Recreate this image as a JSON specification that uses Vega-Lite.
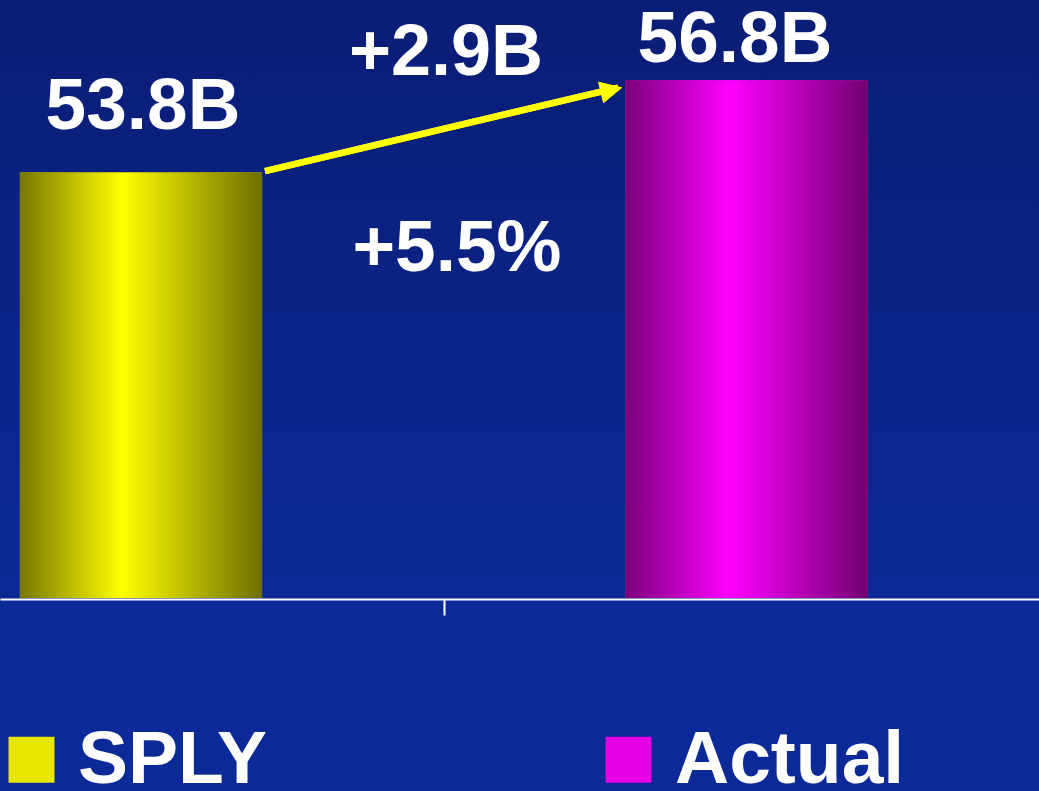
{
  "$schema": "https://vega.github.io/schema/vega-lite/v6.json",
  "width": 1039,
  "height": 598,
  "autosize": {"type": "pad"},
  "padding": 0,
  "background": "#0b2997",
  "config": {
    "view": {
      "stroke": null,
      "fill": {"gradient": "linear", "x1": 0, "y1": 0, "x2": 0, "y2": 1,
        "stops": [{"offset": 0, "color": "#0a1d76"}, {"offset": 1, "color": "#0b2994"}]}
    },
    "text": {"font": "Liberation Sans", "fontWeight": "bold", "fontSize": 73, "color": "white"}
  },
  "data": {
    "values": [
      {"series": "SPLY", "value": 53.8, "label": "53.8B"},
      {"series": "Actual", "value": 56.8, "label": "56.8B", "change": "+2.9B", "pct": "+5.5%"}
    ]
  },
  "layer": [
    {
      "mark": {"type": "bar"},
      "encoding": {
        "x": {
          "field": "series", "type": "nominal",
          "scale": {"domain": ["SPLY", "Actual"], "paddingInner": 0.6, "paddingOuter": 0.158, "align": 0.104},
          "axis": {"title": null, "labels": false, "grid": false, "domainColor": "white", "domainWidth": 2,
            "tickColor": "white", "tickWidth": 2, "tickSize": 16, "offset": 1, "values": ["SPLY"], "bandPosition": 1.753}
        },
        "y": {"field": "value", "type": "quantitative", "scale": {"domain": [40, 59.4], "zero": false, "nice": false}, "axis": null},
        "y2": {"datum": 40},
        "color": {
          "field": "series", "type": "nominal",
          "scale": {"domain": ["SPLY", "Actual"], "range": ["#e6e600", "#e600e6"]},
          "legend": {
            "orient": "none", "legendX": 0, "legendY": 722, "direction": "horizontal", "columns": 2,
            "title": null, "symbolType": "square", "symbolSize": 2116, "symbolStrokeWidth": 0, "symbolOpacity": 1,
            "symbolOffset": -6,
            "labelFont": "Liberation Sans", "labelFontWeight": "bold", "labelFontSize": 75, "labelColor": "white",
            "labelOffset": 9, "labelLimit": 400, "columnPadding": 329, "padding": 0
          }
        }
      }
    },
    {
      "transform": [{"filter": "datum.series === 'SPLY'"}],
      "mark": {"type": "bar", "color": {"gradient": "linear", "x1": 0, "y1": 0, "x2": 1, "y2": 0,
        "stops": [{"offset": 0, "color": "#777700"}, {"offset": 0.42, "color": "#ffff00"}, {"offset": 1, "color": "#6e6e00"}]}},
      "encoding": {
        "x": {"field": "series", "type": "nominal"},
        "y": {"field": "value", "type": "quantitative"},
        "y2": {"datum": 40}
      }
    },
    {
      "transform": [{"filter": "datum.series === 'Actual'"}],
      "mark": {"type": "bar", "color": {"gradient": "linear", "x1": 0, "y1": 0, "x2": 1, "y2": 0,
        "stops": [{"offset": 0, "color": "#7a007a"}, {"offset": 0.43, "color": "#ff00ff"}, {"offset": 1, "color": "#720072"}]}},
      "encoding": {
        "x": {"field": "series", "type": "nominal"},
        "y": {"field": "value", "type": "quantitative"},
        "y2": {"datum": 40}
      }
    },
    {
      "mark": {"type": "rule", "color": "#ffff00", "strokeWidth": 6.5},
      "encoding": {
        "x": {"datum": "SPLY", "bandPosition": 1.012},
        "x2": {"datum": "Actual", "bandPosition": -0.03},
        "y": {"datum": 53.85},
        "y2": {"datum": 56.56}
      }
    },
    {
      "mark": {"type": "point", "shape": "M-0.3,0L-2.3,-1L-2.3,1Z", "size": 484, "filled": true, "color": "#ffff00", "opacity": 1, "angle": 346.7},
      "encoding": {
        "x": {"datum": "Actual", "bandPosition": 0},
        "y": {"datum": 56.59}
      }
    },
    {
      "transform": [{"filter": "datum.series === 'SPLY'"}],
      "mark": {"type": "text", "align": "center", "baseline": "alphabetic", "dx": 2, "dy": -44},
      "encoding": {
        "x": {"field": "series", "type": "nominal"},
        "y": {"field": "value", "type": "quantitative"},
        "text": {"field": "label"}
      }
    },
    {
      "transform": [{"filter": "datum.series === 'Actual'"}],
      "mark": {"type": "text", "align": "center", "baseline": "alphabetic", "dx": -11.5, "dy": -18.6},
      "encoding": {
        "x": {"field": "series", "type": "nominal"},
        "y": {"field": "value", "type": "quantitative"},
        "text": {"field": "label"}
      }
    },
    {
      "transform": [{"filter": "datum.series === 'Actual'"}],
      "mark": {"type": "text", "align": "center", "baseline": "alphabetic", "dx": 1.5, "dy": -5.6, "fontSize": 72},
      "encoding": {
        "x": {"datum": "SPLY", "bandPosition": 1.753},
        "y": {"field": "value", "type": "quantitative"},
        "text": {"field": "change"}
      }
    },
    {
      "transform": [{"filter": "datum.series === 'Actual'"}],
      "mark": {"type": "text", "align": "center", "baseline": "alphabetic", "dx": 12.5, "dy": 190.4},
      "encoding": {
        "x": {"datum": "SPLY", "bandPosition": 1.753},
        "y": {"field": "value", "type": "quantitative"},
        "text": {"field": "pct"}
      }
    }
  ]
}
